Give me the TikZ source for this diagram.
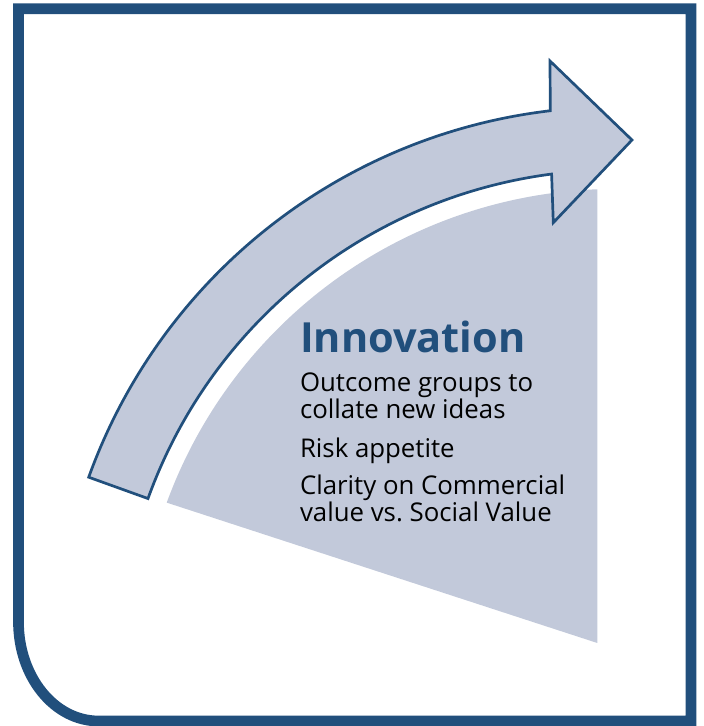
\documentclass[tikz,border=0pt]{standalone}
\usepackage{fontspec}
\setmainfont{Open Sans}
\usepackage{tikz}
\usetikzlibrary{positioning,calc}
\definecolor{frameblue}{RGB}{33,79,124}
\definecolor{arrowfill}{RGB}{194,201,218}

\begin{document}
\begin{tikzpicture}[x=1pt, y=1pt,
  every node/.style={inner sep=0pt, outer sep=0pt, align=left},
  frame/.style={draw=frameblue, line width=10.7pt, line join=miter},
  bend arrow/.style={draw=frameblue, fill=arrowfill, line width=2.7pt, line join=miter},
  wedge/.style={fill=arrowfill},
  heading/.style={font=\fontsize{41.5}{44}\selectfont\bfseries, text=frameblue},
  point/.style={font=\fontsize{25.8}{25.4}\selectfont\frenchspacing, text=black}]
\useasboundingbox (0,0) rectangle (704,726);
\coordinate (hub) at (615.6,59.1);
\draw[frame] (18.5,717.2) -- (691,717.2) -- (691,5) -- (98.5,5) arc[start angle=270, end angle=180, x radius=80, y radius=99] -- cycle;
\fill[wedge] ($(hub)+(159.9:478)$) arc[start angle=159.9, end angle=92.2, radius=478] -- (597.3,83) -- cycle;
\draw[bend arrow] ($(hub)+(160.2:560)$) arc[start angle=160.2, end angle=96.7, radius=560] -- (550,665) -- (632,586) -- (553.3,503.3) -- ($(hub)+(97.4:497)$) arc[start angle=97.4, end angle=160.2, radius=497] -- cycle;
\node[heading, anchor=base west] (innov) at (300,373.7) {Innovation};
\node[point, below=65.9pt of innov.base west, anchor=base west] (ideas) {Outcome groups to\\collate new ideas};
\node[point, below=39.1pt of ideas.base west, anchor=base west] (risk) {Risk appetite};
\node[point, below=64.4pt of risk.base west, anchor=base west] (value) {Clarity on Commercial\\value vs. Social Value};
\end{tikzpicture}
\end{document}
